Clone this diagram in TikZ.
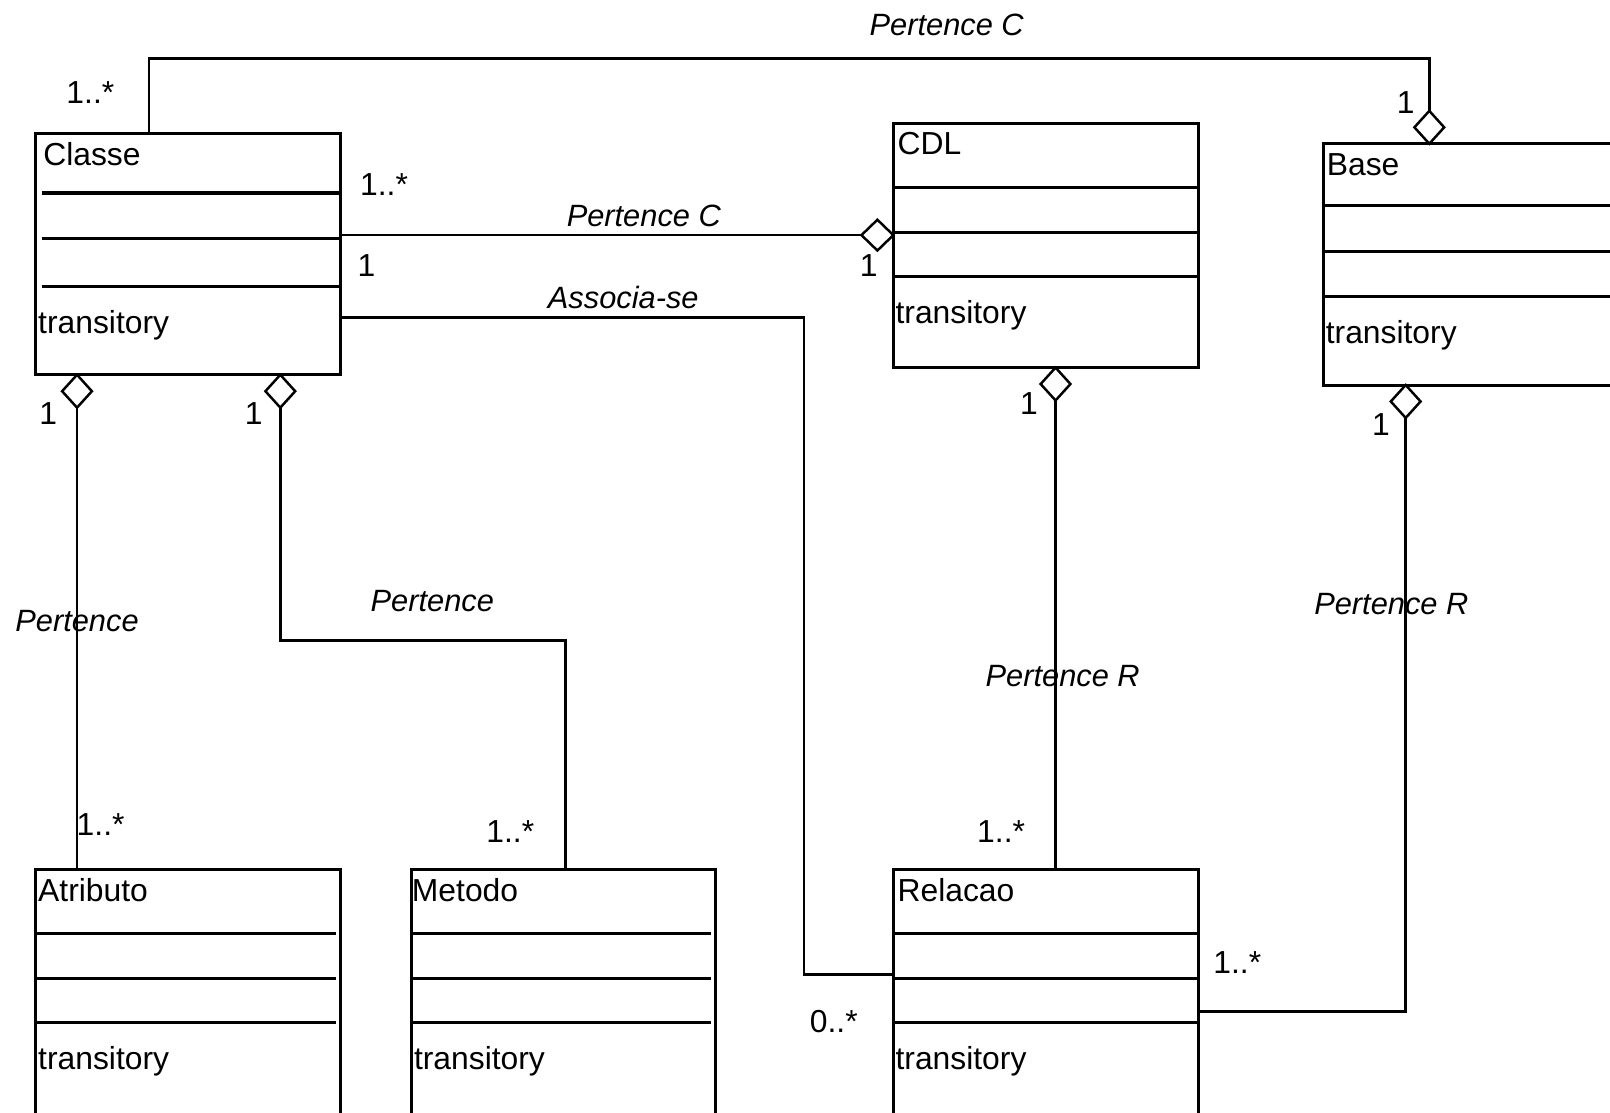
\documentclass[tikz,border=0pt]{standalone}
\usepackage{fontspec}
\setmainfont{Liberation Sans}
\usetikzlibrary{shapes.geometric,calc}

\tikzset{
  umlclass/.style={draw, line width=3pt, inner sep=0pt, outer sep=0pt, anchor=north west, minimum width=297pt},
  compline/.style={line width=3pt},
  agg/.style={diamond, draw, fill=white, line width=2.4pt, inner sep=0pt, outer sep=0pt, minimum width=29pt, minimum height=32pt},
  assoc/.style={line width=2.6pt},
  lbl/.style={inner sep=0pt, font=\fontsize{31}{37}\selectfont},
  rolelbl/.style={inner sep=0pt, font=\fontsize{30}{36}\selectfont\itshape}
}

\begin{document}
\begin{tikzpicture}[x=1pt,y=-1pt]
    \useasboundingbox (0,0) rectangle (1568,1083);
    \clip (0,0) rectangle (1568,1083);
    % classes
    \node[umlclass, minimum height=235pt] (classe) at (35,130) {};
    \node[umlclass, minimum height=238pt] (cdl) at (870,120) {};
    \node[umlclass, minimum height=235pt, minimum width=320pt] (base) at (1289,140) {};
    \node[umlclass, minimum height=300pt] (atributo) at (35,847) {};
    \node[umlclass, minimum width=296pt, minimum height=300pt] (metodo) at (401,847) {};
    \node[umlclass, minimum height=300pt] (relacao) at (870,847) {};
    \foreach \b/\s/\l/\r in {classe/58/6/0, classe/102/6/0, classe/149/6/0,
                             cdl/63/0/0, cdl/106/0/0, cdl/149/0/0,
                             base/60/0/0, base/105/0/0, base/149/0/0,
                             atributo/62/0/5, atributo/106/0/5, atributo/149/0/5,
                             metodo/62/0/5, metodo/106/0/5, metodo/149/0/5,
                             relacao/62/0/0, relacao/106/0/0, relacao/149/0/0}
      \draw[compline] ([xshift=\l pt, yshift=-\s pt]\b.north west) -- ([xshift=-\r pt, yshift=-\s pt]\b.north east);
    \foreach \b/\t/\d in {classe/Classe/7, cdl/CDL/4, base/Base/3, atributo/Atributo/2, metodo/Metodo/0, relacao/Relacao/4}
    {
      \node[lbl, anchor=west] (\b-name) at ([xshift=\d pt, yshift=-20pt]\b.north west) {\t};
      \node[lbl, anchor=west] (\b-tr) at ([xshift=2pt, yshift=-187pt]\b.north west) {transitory};
    }
    % aggregation diamonds
    \node[agg, anchor=north] (classe-agg1) at ([xshift=40pt]classe.south west) {};
    \node[agg, anchor=north] (classe-agg2) at ([xshift=238pt]classe.south west) {};
    \node[agg, anchor=north] (cdl-agg2) at ([xshift=158pt]cdl.south west) {};
    \node[agg, anchor=north] (base-agg2) at ([xshift=80pt]base.south west) {};
    \node[agg, anchor=south] (base-agg1) at ([xshift=103pt]base.north west) {};
    \node[agg, anchor=east, minimum width=31pt, minimum height=30pt] (cdl-agg1) at ([yshift=-109pt]cdl.north west) {};
    % associations
    \draw[assoc] ([xshift=110pt]classe.north west) -- ++(0,-73) -| (base-agg1.north);
    \draw[assoc] (cdl-agg1.west) -- (cdl-agg1.west -| classe.east);
    \draw[assoc] ([yshift=-179pt]classe.north east) -- ++(451,0) |- ([yshift=-102pt]relacao.north west);
    \draw[assoc] (classe-agg1.south) -- (classe-agg1.south |- atributo.north);
    \draw[assoc] (classe-agg2.south) -- ++(0,227) -| ([xshift=150pt]metodo.north west);
    \draw[assoc] (cdl-agg2.south) -- (cdl-agg2.south |- relacao.north);
    \draw[assoc] (base-agg2.south) |- ([yshift=-138pt]relacao.north east);
    % role names
    \node[rolelbl] (role-top) at (922,24) {Pertence C};
    \node[rolelbl] (role-cdl) at (627,210) {Pertence C};
    \node[rolelbl] (role-assoc) at (607,290) {Associa-se};
    \node[rolelbl] (role-atr) at (75,605) {Pertence};
    \node[rolelbl] (role-met) at (421,585) {Pertence};
    \node[rolelbl] (role-rel) at (1035,658) {Pertence R};
    \node[rolelbl] (role-base) at (1355,588) {Pertence R};
    % multiplicities
    \node[lbl] (m1) at (88,90) {1..*};
    \node[lbl] (m2) at (1369,100) {1};
    \node[lbl] (m3) at (374,180) {1..*};
    \node[lbl] (m4) at (357,259) {1};
    \node[lbl] (m5) at (846,259) {1};
    \node[lbl] (m6) at (47,403) {1};
    \node[lbl] (m7) at (247,403) {1};
    \node[lbl] (m8) at (1002,393) {1};
    \node[lbl] (m9) at (1345,413) {1};
    \node[lbl] (m10) at (98,803) {1..*};
    \node[lbl] (m11) at (497,810) {1..*};
    \node[lbl] (m12) at (975,810) {1..*};
    \node[lbl] (m13) at (1205,937) {1..*};
    \node[lbl] (m14) at (812,995) {0..*};
\end{tikzpicture}
\end{document}
